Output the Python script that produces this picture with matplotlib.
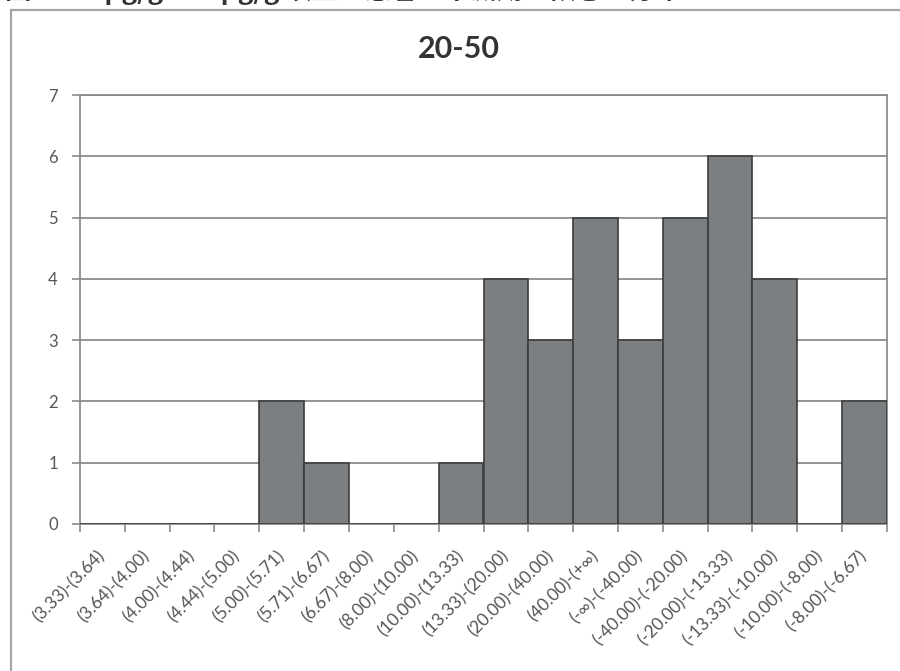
import matplotlib.pyplot as plt
import matplotlib.patches as mpatches
import numpy as np

plt.rcParams['font.family'] = ['Lato', 'DejaVu Sans']

categories = [
    "(3.33)-(3.64)", "(3.64)-(4.00)", "(4.00)-(4.44)", "(4.44)-(5.00)",
    "(5.00)-(5.71)", "(5.71)-(6.67)", "(6.67)-(8.00)", "(8.00)-(10.00)",
    "(10.00)-(13.33)", "(13.33)-(20.00)", "(20.00)-(40.00)", "(40.00)-(+∞)",
    "(-∞)-(-40.00)", "(-40.00)-(-20.00)", "(-20.00)-(-13.33)",
    "(-13.33)-(-10.00)", "(-10.00)-(-8.00)", "(-8.00)-(-6.67)",
]
counts = [0, 0, 0, 0, 2, 1, 0, 0, 1, 4, 3, 5, 3, 5, 6, 4, 0, 2]
y_ticks = [0, 1, 2, 3, 4, 5, 6, 7]

W, H = 900, 671
fig = plt.figure(figsize=(9, 6.71), dpi=100)
fig.patch.set_facecolor("white")

# chart frame (runs off the right and bottom edges)
frame = mpatches.Rectangle((11 / W, -0.05), 1.1, 1 - 10 / H + 0.05,
                           transform=fig.transFigure, fill=False,
                           edgecolor="#a6a6a6", lw=1.6, clip_on=False)
fig.patches.append(frame)

# figure caption, mostly cut off by the top edge
fig.text(5 / W, 1 + 1 / H, "図1　20pg/g～50pg/g 以上の患者の半減期の傾きの分布",
         family=["Noto Sans CJK JP"], fontsize=19, fontweight="bold",
         color="#333333", va="baseline", ha="left")

ax = fig.add_axes([80 / W, (H - 524) / H, (887 - 80) / W, (524 - 95) / H])
x = np.arange(len(categories))
ax.bar(x, counts, width=1.0, color="#7b7f81", edgecolor="#3c3c3c",
       linewidth=1.2, zorder=3)

ax.set_xlim(-0.5, len(categories) - 0.5)
ax.set_ylim(0, 7)
ax.set_yticks(y_ticks)
ax.yaxis.grid(True, color="#8c8c8c", linewidth=1.3, zorder=0)
ax.set_axisbelow(True)

ax.set_xticks(np.arange(len(categories) + 1) - 0.5)
ax.set_xticklabels([])
ax.set_xticks(x, minor=True)
ax.set_xticklabels(categories, minor=True, rotation=45, ha="right",
                   va="center", rotation_mode="anchor", fontsize=12.5,
                   color="#555555")
ax.tick_params(axis="x", which="minor", length=0, pad=21)
ax.tick_params(axis="x", which="major", length=6, color="#8c8c8c",
               width=1.2, direction="out")
ax.tick_params(axis="y", length=6, color="#8c8c8c", width=1.2,
               labelsize=12, labelcolor="#555555", pad=10)

for side in ["left", "bottom", "right", "top"]:
    ax.spines[side].set_color("#8c8c8c")
    ax.spines[side].set_linewidth(1.3)

fig.text(459 / W, 1 - 49 / H, "20-50", fontsize=22, fontweight="bold",
         color="#333333", ha="center", va="center")

fig.savefig("out.png", dpi=100)
